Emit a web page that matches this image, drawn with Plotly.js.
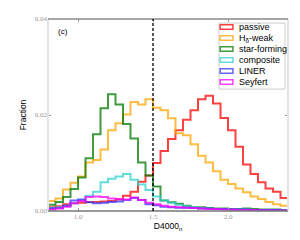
<!DOCTYPE html>
<html>
<head>
<meta charset="utf-8">
<script src="https://cdn.plot.ly/plotly-3.0.1.min.js"></script>
<style>html,body{margin:0;padding:0;background:#fff;}#chart{width:300px;height:240px;}</style>
</head>
<body>
<div id="chart"></div>
<script>
// D4000_n histogram bins
var binStart = 0.8;
var binWidth = 0.05;
var seriesNames = ["passive", "H<sub>δ</sub>-weak", "star-forming", "composite", "LINER", "Seyfert"];
var seriesColors = ["#ff0000", "#ffa500", "#007a00", "#2ed0d0", "#3333ff", "#ff00ff"];

var passive = [0.0008,0.0010,0.0014,0.0016,0.0017,0.0019,0.0019,0.0020,0.0021,0.0024,0.0032,0.0040,0.0061,0.0074,0.0100,0.0125,0.0150,0.0168,0.0190,0.0210,0.0233,0.0240,0.0224,0.0194,0.0168,0.0134,0.0097,0.0077,0.0060,0.0047,0.0040,0.0027];
var hdweak = [0.0021,0.0026,0.0045,0.0059,0.0072,0.0101,0.0106,0.0128,0.0168,0.0183,0.0201,0.0227,0.0222,0.0233,0.0215,0.0210,0.0193,0.0162,0.0158,0.0139,0.0115,0.0101,0.0083,0.0065,0.0056,0.0047,0.0039,0.0030,0.0025,0.0019,0.0014,0.0011];
var starforming = [0.0013,0.0019,0.0029,0.0046,0.0070,0.0110,0.0160,0.0214,0.0243,0.0222,0.0181,0.0151,0.0101,0.0074,0.0051,0.0022,0.0018,0.0015,0.0011,0.0008,0.0008,0.0006,0.0005,0.0005,0.0004,0.0004,0.0005,0.0004,0.0003,0.0003,0.0003,0.0002];
var composite = [0.0006,0.0008,0.0011,0.0016,0.0022,0.0032,0.0040,0.0060,0.0067,0.0072,0.0077,0.0065,0.0055,0.0044,0.0030,0.0022,0.0017,0.0013,0.0010,0.0008,0.0006,0.0005,0.0004,0.0004,0.0003,0.0003,0.0003,0.0002,0.0002,0.0002,0.0001,0.0001];
var liner = [0.0005,0.0006,0.0011,0.0022,0.0024,0.0018,0.0016,0.0017,0.0019,0.0020,0.0023,0.0027,0.0023,0.0014,0.0012,0.0009,0.0008,0.0007,0.0007,0.0006,0.0005,0.0005,0.0004,0.0004,0.0003,0.0003,0.0003,0.0002,0.0002,0.0002,0.0002,0.0001];
var seyfert = [0.0003,0.0005,0.0009,0.0016,0.0021,0.0029,0.0030,0.0029,0.0026,0.0025,0.0024,0.0028,0.0023,0.0017,0.0014,0.0011,0.0009,0.0008,0.0007,0.0006,0.0005,0.0004,0.0004,0.0003,0.0003,0.0002,0.0002,0.0002,0.0001,0.0001,0.0001,0.0001];

var xTickVals = [1.0, 1.5, 2.0];
var xTickText = ["1.0", "1.5", "2.0"];
var yTickVals = [0, 0.02, 0.04];
var yTickText = ["0.00", "0.02", "0.04"];
var dividerX = 1.5;
var panelLabel = "(c)";

var allSeries = [passive, hdweak, starforming, composite, liner, seyfert];

function edges(n) {
  var e = [];
  for (var i = 0; i <= n; i++) e.push(+(binStart + i * binWidth).toFixed(4));
  return e;
}

var traces = allSeries.map(function (vals, k) {
  var x = edges(vals.length);
  var y = vals.concat([vals[vals.length - 1]]);
  return {
    type: "scatter", mode: "lines", x: x, y: y,
    line: {shape: "hv", color: seriesColors[k], width: 2},
    opacity: 0.75, showlegend: false, hoverinfo: "skip", name: seriesNames[k]
  };
});

// axis frame & divider
var shapes = [
  {type: "line", xref: "paper", yref: "paper", x0: 0, x1: 0, y0: 0, y1: 1, line: {color: "#e2e2e2", width: 2}},
  {type: "line", xref: "paper", yref: "paper", x0: 1, x1: 1, y0: 0, y1: 1, line: {color: "#e2e2e2", width: 2}},
  {type: "line", xref: "paper", yref: "paper", x0: 0, x1: 1, y0: 1, y1: 1, line: {color: "#888888", width: 1.5}},
  {type: "line", xref: "paper", yref: "paper", x0: 0, x1: 1, y0: 0, y1: 0, line: {color: "#777777", width: 1.5}},
  {type: "line", xref: "x", yref: "paper", x0: dividerX, x1: dividerX, y0: 0, y1: 1, line: {color: "#000", width: 1.3, dash: "3px,2px"}}
];

// legend box (drawn manually to get outlined patches)
var lgX0 = 0.7125, lgX1 = 0.9875, lgY0 = 0.635, lgY1 = 0.979;
shapes.push({type: "rect", xref: "paper", yref: "paper", x0: lgX0, x1: lgX1, y0: lgY0, y1: lgY1,
  line: {color: "#cccccc", width: 1}, fillcolor: "#ffffff", layer: "above"});
var annotations = [
  {xref: "paper", yref: "paper", x: 0.061, y: 0.934, text: panelLabel, showarrow: false,
   xanchor: "center", yanchor: "middle", font: {family: "Liberation Sans, Arial", size: 8, color: "#000"}}
];
seriesNames.forEach(function (nm, k) {
  var yc = (211 - (27 + 11 * k)) / 192;
  shapes.push({type: "rect", xref: "paper", yref: "paper", x0: 0.7175, x1: 0.7705,
    y0: yc - 2.2 / 192, y1: yc + 2.2 / 192, line: {color: seriesColors[k], width: 1.5},
    fillcolor: "rgba(255,255,255,0)", opacity: 0.75, layer: "above"});
  annotations.push({xref: "paper", yref: "paper", x: 0.788, y: yc, text: nm, showarrow: false,
    xanchor: "left", yanchor: "middle", font: {family: "Liberation Sans, Arial", size: 9, color: "#000"}});
});

var layout = {
  width: 300, height: 240,
  margin: {l: 48, r: 12, t: 19, b: 29, pad: 0},
  paper_bgcolor: "#fff", plot_bgcolor: "#fff",
  showlegend: false,
  xaxis: {
    range: [0.8, 2.4], tickvals: xTickVals, ticktext: xTickText,
    showgrid: false, zeroline: false, showline: false,
    ticks: "inside", ticklen: 3, tickcolor: "#999", mirror: "ticks",
    tickfont: {family: "Liberation Serif, DejaVu Serif", size: 7, color: "#999"},
    title: {text: "D4000<sub>n</sub>", font: {family: "Liberation Sans, Arial", size: 8.5, color: "#000"}, standoff: 2}
  },
  yaxis: {
    range: [0, 0.04], tickvals: yTickVals, ticktext: yTickText,
    showgrid: false, zeroline: false, showline: false,
    ticks: "inside", ticklen: 3, tickcolor: "#999", mirror: "ticks",
    tickfont: {family: "Liberation Serif, DejaVu Serif", size: 7, color: "#999"},
    title: {text: "Fraction", font: {family: "Liberation Sans, Arial", size: 8.5, color: "#000"}, standoff: 6}
  },
  shapes: shapes,
  annotations: annotations
};

Plotly.newPlot("chart", traces, layout, {displayModeBar: false, staticPlot: true});
</script>
</body>
</html>
